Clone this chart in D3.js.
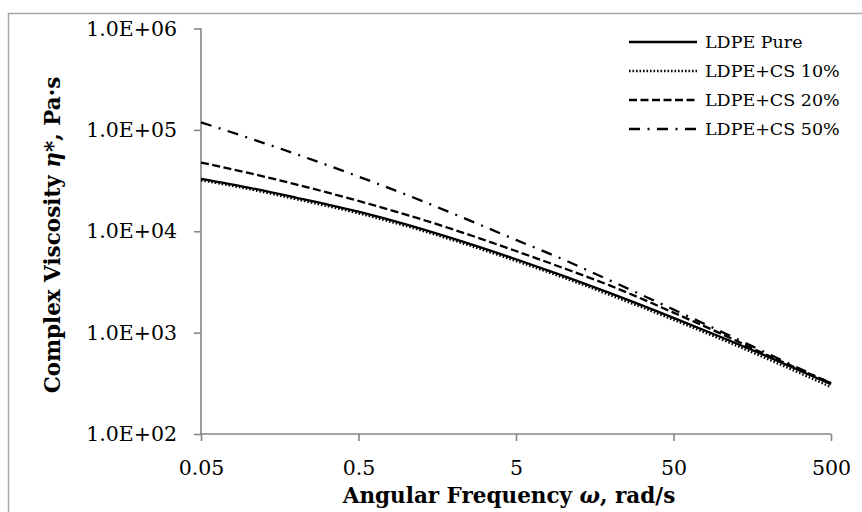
<!DOCTYPE html>
<html>
<head>
<meta charset="utf-8">
<script src="https://cdn.jsdelivr.net/npm/d3@7"></script>
<style>
  body { margin: 0; background: #fff; }
  svg { display: block; font-family: "DejaVu Serif", serif; }
</style>
</head>
<body>
<svg id="chart"></svg>
<script>
// angular frequency, rad/s
const omega = [0.05, 0.1, 0.2, 0.5, 1, 2, 5, 10, 20, 50, 100, 200, 500];

// complex viscosity, Pa·s
const ldpePure = [32900, 27000, 21500, 15600, 11700, 8450, 5290, 3630, 2440, 1400, 906, 577, 310];
const ldpeCs10 = [31800, 26100, 20700, 15000, 11250, 8130, 5080, 3480, 2330, 1335, 862, 545, 290];
const ldpeCs20 = [47600, 37600, 29000, 19900, 14600, 10400, 6380, 4330, 2890, 1575, 977, 593, 318];
const ldpeCs50 = [118500, 83400, 57800, 34600, 23000, 14900, 8220, 5260, 3240, 1690, 1026, 618, 316];

const seriesNames = ["LDPE Pure", "LDPE+CS 10%", "LDPE+CS 20%", "LDPE+CS 50%"];

const xTicks = [0.05, 0.5, 5, 50, 500];
const xTickLabels = ["0.05", "0.5", "5", "50", "500"];
const yTicks = [1e2, 1e3, 1e4, 1e5, 1e6];
const yTickLabels = ["1.0E+02", "1.0E+03", "1.0E+04", "1.0E+05", "1.0E+06"];

const width = 862, height = 512;
const axisColor = "#868686";

const svg = d3.select("#chart")
    .attr("width", width)
    .attr("height", height);

// chart frame (cut off at right and bottom)
svg.append("rect")
    .attr("x", 8.5).attr("y", 13.5)
    .attr("width", width + 10).attr("height", height + 10)
    .attr("fill", "none")
    .attr("stroke", "#a6a6a6")
    .attr("stroke-width", 1.5);

const x = d3.scaleLog().domain([0.05, 500]).range([201, 831]);
const y = d3.scaleLog().domain([100, 1e6]).range([434, 28.5]);

// y axis
const yAxis = svg.append("g")
    .attr("transform", "translate(201,0)")
    .call(d3.axisLeft(y).tickValues(yTicks).tickSize(7).tickPadding(17)
        .tickFormat((d, i) => yTickLabels[i]));

// x axis
const xAxis = svg.append("g")
    .attr("transform", "translate(0,434)")
    .call(d3.axisBottom(x).tickValues(xTicks).tickSize(7).tickPadding(19)
        .tickFormat((d, i) => xTickLabels[i]));

[xAxis, yAxis].forEach(g => {
    g.select(".domain").attr("stroke", axisColor).attr("stroke-width", 1.6);
    g.selectAll(".tick line").attr("stroke", axisColor).attr("stroke-width", 1.6);
    g.selectAll("text")
        .attr("fill", "#000")
        .style("font-family", "'DejaVu Serif', serif")
        .style("font-size", "20.5px");
});
xAxis.select(".domain").attr("d", "M201,0H831");
yAxis.select(".domain").attr("d", "M0,28.5V434");

// lines
const series = [
    { name: seriesNames[0], values: ldpePure, dash: null },
    { name: seriesNames[1], values: ldpeCs10, dash: "1.6 1.9" },
    { name: seriesNames[2], values: ldpeCs20, dash: "8 3.5" },
    { name: seriesNames[3], values: ldpeCs50, dash: "11 7.5 2 7.5" }
];

const line = d3.line()
    .x(d => x(d[0]))
    .y(d => y(d[1]))
    .curve(d3.curveMonotoneX);

svg.append("g").attr("class", "lines")
    .selectAll("path")
    .data(series)
    .enter()
    .append("path")
    .attr("d", s => line(omega.map((w, i) => [w, s.values[i]])))
    .attr("fill", "none")
    .attr("stroke", "#000")
    .attr("stroke-width", 2.3)
    .attr("stroke-dasharray", s => s.dash);

// legend
const legend = svg.append("g").attr("class", "legend")
    .selectAll("g")
    .data(series)
    .enter()
    .append("g")
    .attr("transform", (d, i) => `translate(629 ${42 + i * 29})`);

legend.append("line")
    .attr("x1", 0).attr("x2", 68)
    .attr("stroke", "#000")
    .attr("stroke-width", 2.3)
    .attr("stroke-dasharray", d => d.dash);

legend.append("text")
    .attr("x", 76)
    .attr("dy", "0.35em")
    .style("font-size", "17.5px")
    .text(d => d.name);

// axis titles
const xTitle = svg.append("text")
    .attr("x", 509)
    .attr("y", 503)
    .attr("text-anchor", "middle")
    .style("font-size", "21.5px")
    .style("font-weight", "bold");
xTitle.append("tspan").text("Angular Frequency ");
xTitle.append("tspan").style("font-style", "italic").text("ω");
xTitle.append("tspan").text(", rad/s");

const yTitle = svg.append("text")
    .attr("transform", "translate(60 235) rotate(-90)")
    .attr("text-anchor", "middle")
    .style("font-size", "21.5px")
    .style("font-weight", "bold");
yTitle.append("tspan").text("Complex Viscosity ");
yTitle.append("tspan").style("font-style", "italic").text("η*");
yTitle.append("tspan").text(", Pa·s");
</script>
</body>
</html>
